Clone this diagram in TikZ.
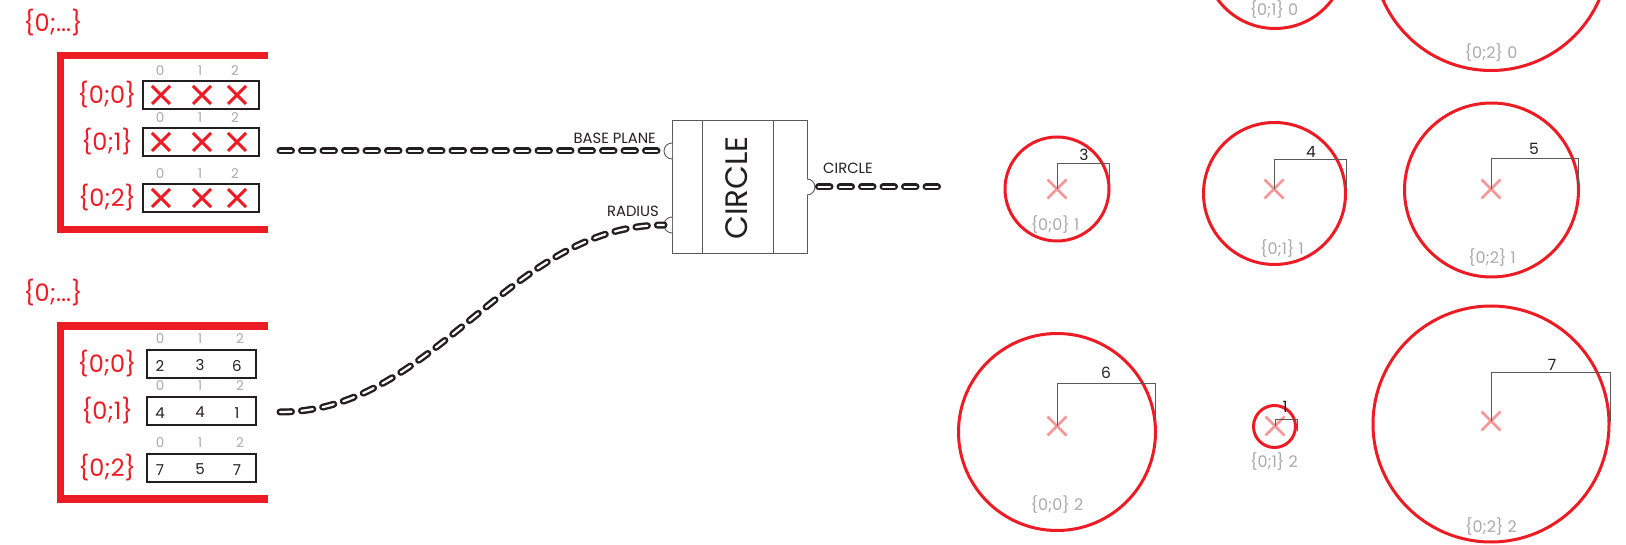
\documentclass[tikz,border=0pt]{standalone}
\usepackage{fontspec}
\setmainfont{Poppins}[Numbers=Monospaced]
\definecolor{ghred}{RGB}{237,28,36}
\definecolor{ghpink}{RGB}{244,150,150}
\definecolor{ghgray}{RGB}{170,170,170}
\definecolor{ghdark}{RGB}{35,31,32}
\definecolor{ghline}{RGB}{90,90,90}
\begin{document}
\begin{tikzpicture}[x=1pt,y=-1pt,
  redtxt/.style={text=ghred,font=\fontsize{24}{24}\selectfont,inner sep=0},
  idx/.style={text=ghgray,font=\fontsize{13.5}{13.5}\selectfont,inner sep=0},
  val/.style={text=ghdark,font=\fontsize{15}{15}\selectfont,inner sep=0},
  cell/.style={draw=ghdark,line width=1.2pt,minimum height=28pt,inner sep=0},
  bracket/.style={draw=ghred,line width=7.5pt},
  boxcross/.style={draw=ghred,line width=3pt},
  ctrcross/.style={draw=ghpink,line width=2.5pt},
  ring/.style={draw=ghred,line width=3pt},
  dim/.style={draw=ghline,line width=1pt},
  dimtxt/.style={text=ghdark,font=\fontsize{15.5}{15.5}\selectfont,inner sep=0},
  captxt/.style={text=ghgray,font=\fontsize{16}{16}\selectfont,inner sep=0},
  ptxt/.style={text=ghdark,font=\fontsize{14.8}{14.8}\selectfont,inner sep=0},
  wireout/.style={draw=ghdark,line width=7pt,line cap=round,dash pattern=on 11.5pt off 10pt},
  wirein/.style={draw=white,line width=2.2pt,line cap=round,dash pattern=on 11.5pt off 10pt},
  port/.style={draw=ghline,line width=0.9pt},
  xbox/.pic={\draw[boxcross] (-9,-9)--(9,9) (-9,9)--(9,-9);},
  xctr/.pic={\draw[ctrcross] (-9.5,-9.5)--(9.5,9.5) (-9.5,9.5)--(9.5,-9.5);}
]
\useasboundingbox (0,0) rectangle (1626,545);
\clip (0,0) rectangle (1626,545);

% ---------- panel 1: base planes ----------
\node[redtxt] (t1) at (53,23) {\{0;...\}};
\draw[bracket] (268,55.5) -- (60.5,55.5) -- (60.5,229.5) -- (268,229.5);
\foreach \n/\y/\lab in {a/95/{\{0;0\}}, b/142/{\{0;1\}}, c/198/{\{0;2\}}} {
  \node[redtxt] (pl\n) at (107,\y) {\lab};
  \node[cell,minimum width=116pt] (pb\n) at (201,\y) {};
  \node[idx] (pi\n0) at (160,\y-24) {0};
  \node[idx] (pi\n1) at (200,\y-24) {1};
  \node[idx] (pi\n2) at (235,\y-24) {2};
  \pic at (161,\y) {xbox};
  \pic at (202,\y) {xbox};
  \pic at (237,\y) {xbox};
}

% ---------- panel 2: radii ----------
\node[redtxt] (t2) at (53,293) {\{0;...\}};
\draw[bracket] (268,326) -- (60.5,326) -- (60.5,499) -- (268,499);
\foreach \n/\y/\lab/\va/\vb/\vc in {a/364/{\{0;0\}}/2/3/6, b/411/{\{0;1\}}/4/4/1, c/468/{\{0;2\}}/7/5/7} {
  \node[redtxt] (rl\n) at (107,\y) {\lab};
  \node[cell,minimum width=109pt] (rb\n) at (201.5,\y) {};
  \node[idx] (ri\n0) at (160,\y-25) {0};
  \node[idx] (ri\n1) at (200,\y-25) {1};
  \node[idx] (ri\n2) at (240,\y-25) {2};
  \node[val] (rv\n0) at (160,\y+2) {\va};
  \node[val] (rv\n1) at (200,\y+1) {\vb};
  \node[val] (rv\n2) at (237,\y+2) {\vc};
}

% ---------- component ----------
\node[draw=ghline,line width=1pt,minimum width=135pt,minimum height=133pt,inner sep=0] (comp) at (739.5,187.5) {};
\draw[ghline,line width=1pt] (702,121) -- (702,254);
\draw[ghline,line width=1pt] (773,121) -- (773,254);
\node[rotate=90,text=ghdark,font=\fontsize{31}{31}\selectfont,inner sep=0] (ctitle) at (737,188) {CIRCLE};
\draw[port,fill=white] (672,143) arc[start angle=90,end angle=270,radius=8pt];
\draw[port,fill=white] (672,217) arc[start angle=90,end angle=270,radius=8pt];
\draw[port,fill=white] (807,179) arc[start angle=90,end angle=-90,radius=8pt];
\node[ptxt,anchor=east] (lbase) at (656,138) {BASE PLANE};
\node[ptxt,anchor=east] (lrad) at (659,211) {RADIUS};
\node[ptxt,anchor=west] (lout) at (823,168) {CIRCLE};

% ---------- wires ----------
\coordinate (w1s) at (280,151);
\coordinate (w1e) at (664,151);
\coordinate (w2s) at (280,412);
\coordinate (w2e) at (664,225);
\coordinate (w3s) at (818.5,187);
\coordinate (w3e) at (941,187);
\draw[wireout] (w1s) -- (w1e);
\draw[wirein] (w1s) -- (w1e);
\draw[wireout] (w2s) .. controls +(155,0) and +(-155,0) .. (w2e);
\draw[wirein] (w2s) .. controls +(155,0) and +(-155,0) .. (w2e);
\draw[wireout] (w3s) -- (w3e);
\draw[wirein] (w3s) -- (w3e);

% ---------- preview circles ----------
% row 0 (cut by the top edge)
\draw[ring] (1275,-42.5) circle[radius=71pt];
\node[captxt] (c10) at (1274,10) {\{0;1\} 0};
\draw[ring] (1491,-47.5) circle[radius=118pt];
\node[captxt] (c20) at (1491,53) {\{0;2\} 0};

% row 1
\draw[ring] (1057,189) circle[radius=52pt];
\pic at (1057,189) {xctr};
\draw[dim] (1057,189) -- (1057,164) -- (1109,164) -- (1109,190);
\node[dimtxt] (d01) at (1084,155) {3};
\node[captxt] (c01) at (1055,225) {\{0;0\} 1};

\draw[ring] (1274.5,193.5) circle[radius=71pt];
\pic at (1274,189) {xctr};
\draw[dim] (1274,189) -- (1274,160) -- (1346,160) -- (1346,188);
\node[dimtxt] (d11) at (1311,152) {4};
\node[captxt] (c11) at (1282,249) {\{0;1\} 1};

\draw[ring] (1491.5,190) circle[radius=87pt];
\pic at (1491,189) {xctr};
\draw[dim] (1491,189) -- (1491,159) -- (1578,159) -- (1578,184);
\node[dimtxt] (d21) at (1534,149) {5};
\node[captxt] (c21) at (1492,258) {\{0;2\} 1};

% row 2
\draw[ring] (1057,432) circle[radius=98.5pt];
\pic at (1057,426) {xctr};
\draw[dim] (1057,426) -- (1057,384) -- (1155,384) -- (1155,427);
\node[dimtxt] (d02) at (1106,373) {6};
\node[captxt] (c02) at (1057,505) {\{0;0\} 2};

\draw[ring] (1274.5,426.5) circle[radius=21pt];
\pic at (1275,426) {xctr};
\draw[dim] (1275,426) -- (1275,419) -- (1297,419) -- (1297,431);
\node[dimtxt] (d12) at (1285,407) {1};
\node[captxt] (c12) at (1274,462) {\{0;1\} 2};

\draw[ring] (1491,424) circle[radius=118pt];
\pic at (1491,421) {xctr};
\draw[dim] (1491,421) -- (1491,373) -- (1610,373) -- (1610,422);
\node[dimtxt] (d22) at (1552,365) {7};
\node[captxt] (c22) at (1491,527) {\{0;2\} 2};
\end{tikzpicture}
\end{document}
